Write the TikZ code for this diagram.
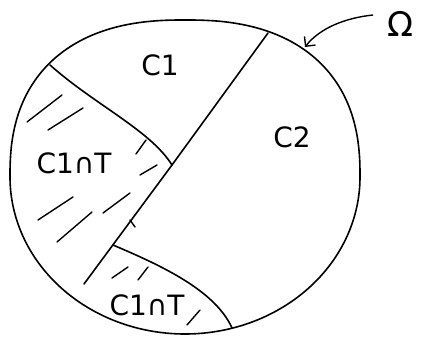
\documentclass[tikz,border=0pt]{standalone}
\usepackage{fontspec}
\setmainfont{DejaVu Sans}
\usetikzlibrary{arrows.meta}

\begin{document}
\begin{tikzpicture}[x=1pt,y=-1pt,
    declare function={ex(\t)=(sin(\t)>0)*0.83+(sin(\t)<=0)*1.0;},
    boundary/.style={line width=1.6pt, line join=round},
    cut/.style={line width=1.6pt, line cap=round},
    hatch/.style={line width=1.4pt, line cap=round},
    pointer/.style={-{Straight Barb[length=7pt,width=14pt]}, line width=1.4pt},
    regionlabel/.style={font=\fontsize{28}{28}\selectfont, inner sep=0pt}]
\useasboundingbox (0,0) rectangle (426,337);
% outer boundary
\draw[boundary] plot[domain=1:358, samples=120, smooth cycle]
    ({185+175*sign(cos(\x))*abs(cos(\x))^ex(\x)},
     {177-157*sign(sin(\x))*abs(sin(\x))^ex(\x)});
% cut points
\coordinate (top) at (268,33);
\coordinate (mid) at (172,165);
\coordinate (end) at (84,284);
\coordinate (ul) at (50,65);
\coordinate (lo) at (113,245);
\coordinate (bot) at (232,328);
\coordinate (tip) at (305,47);
\coordinate (tail) at (373,15);
% cuts
\draw[cut] (top) -- (mid) -- (end);
\draw[cut] (ul) .. controls (95,105) and (150,130) .. (mid);
\draw[cut] (lo) .. controls (160,265) and (215,290) .. (bot);
% hatching
\foreach \xa/\ya/\xb/\yb in {27/122/62/95, 48/130/83/108, 136/154/146/140,
    140/175/157/165, 38/220/73/197, 57/242/92/212, 103/213/130/193,
    112/278/128/267, 138/280/148/267, 187/325/200/310} {
    \draw[hatch] (\xa,\ya) -- (\xb,\yb);
}
\draw[hatch] (130,220) -- (135,227);
% labels
\node[regionlabel] (c1) at (160,65) {C1};
\node[regionlabel] (c2) at (292,137) {C2};
\node[regionlabel] (c1t) at (74,163) {C1∩T};
\node[regionlabel] (c1tb) at (147,305) {C1∩T};
\node[regionlabel, font=\fontsize{34}{34}\selectfont] (omega) at (400,24) {Ω};
% pointer
\draw[pointer] (tail) .. controls (345,18) and (320,28) .. (tip);
\end{tikzpicture}
\end{document}
